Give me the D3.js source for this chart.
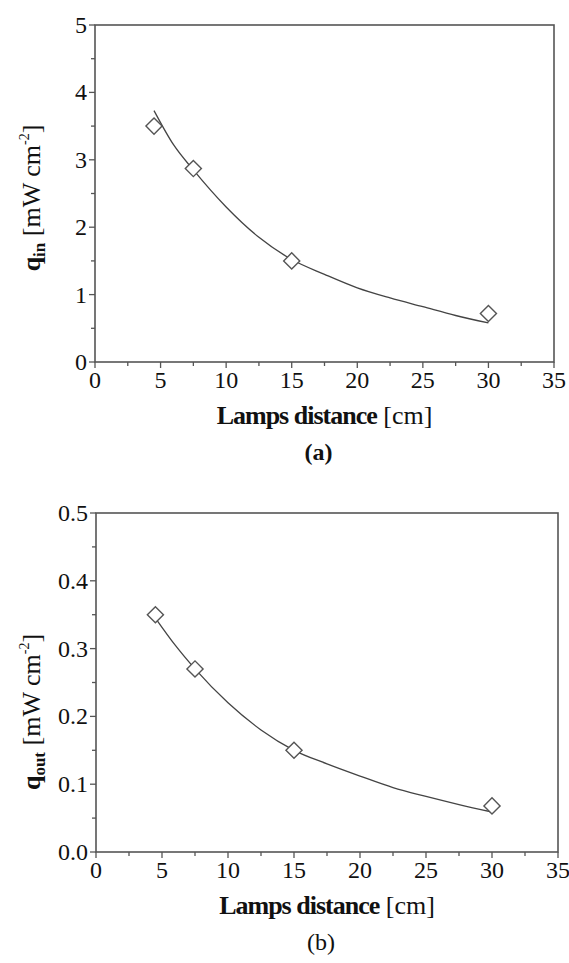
<!DOCTYPE html>
<html>
<head>
<meta charset="utf-8">
<script src="https://cdn.jsdelivr.net/npm/d3@7"></script>
<style>
  body { margin: 0; background: #fff; }
  .frame { fill: none; stroke: #555; stroke-width: 1.6; }
  .tick-line { stroke: #555; stroke-width: 1.3; }
  .fit { fill: none; stroke: #444; stroke-width: 1.3; }
  .marker { fill: #fff; stroke: #555; stroke-width: 1.4; }
</style>
</head>
<body>
<svg id="chart" width="569" height="963"></svg>
<script>
'use strict';

const FONT = 'Liberation Serif';

// Measured points
const distances = [4.5, 7.5, 15, 30];
const qIn = [3.5, 2.87, 1.5, 0.72];
const qOut = [0.35, 0.27, 0.15, 0.068];

// Fitted curve
const fitDistances = [4.5, 6, 7.5, 10, 12.5, 15, 17.5, 20, 22.5, 25, 27.5, 30];
const qInFit = [3.73, 3.22, 2.85, 2.3, 1.85, 1.52, 1.3, 1.1, 0.95, 0.82, 0.69, 0.58];
const qOutFit = [0.345, 0.305, 0.27, 0.22, 0.18, 0.15, 0.13, 0.112, 0.095, 0.082, 0.07, 0.059];

// Axes
const xTicks = [0, 5, 10, 15, 20, 25, 30, 35];
const qInTicks = [0, 1, 2, 3, 4, 5];
const qOutTicks = [0, 0.1, 0.2, 0.3, 0.4, 0.5];
const xTitle = ['Lamps distance', ' [cm]'];

const svg = d3.select('#chart');

function drawPanel(opts) {
    const x = d3.scaleLinear().domain([0, 35]).range([opts.left, opts.right]);
    const y = d3.scaleLinear().domain(opts.yDomain).range([opts.bottom, opts.top]);
    const g = svg.append('g');

    // Frame
    g.append('rect')
        .attr('class', 'frame')
        .attr('x', opts.left)
        .attr('y', opts.top)
        .attr('width', opts.right - opts.left)
        .attr('height', opts.bottom - opts.top);

    // Bottom axis: major and minor ticks, pointing out
    const xMinor = xTicks.slice(0, -1).map(t => t + 2.5);
    g.selectAll('.xmajor').data(xTicks).enter().append('line')
        .attr('class', 'tick-line')
        .attr('x1', d => x(d)).attr('x2', d => x(d))
        .attr('y1', opts.bottom).attr('y2', opts.bottom + 6);
    g.selectAll('.xminor').data(xMinor).enter().append('line')
        .attr('class', 'tick-line')
        .attr('x1', d => x(d)).attr('x2', d => x(d))
        .attr('y1', opts.bottom).attr('y2', opts.bottom + 4);
    g.selectAll('.xlabel').data(xTicks).enter().append('text')
        .attr('font-family', FONT)
        .attr('font-size', 24)
        .attr('fill', '#111')
        .attr('x', d => x(d))
        .attr('y', opts.bottom + 26)
        .attr('text-anchor', 'middle')
        .text(d => d);

    // Left axis
    const step = opts.yTicks[1] - opts.yTicks[0];
    const yMinor = opts.yTicks.slice(0, -1).map(t => t + step / 2);
    g.selectAll('.ymajor').data(opts.yTicks).enter().append('line')
        .attr('class', 'tick-line')
        .attr('x1', opts.left - 6).attr('x2', opts.left)
        .attr('y1', d => y(d)).attr('y2', d => y(d));
    g.selectAll('.yminor').data(yMinor).enter().append('line')
        .attr('class', 'tick-line')
        .attr('x1', opts.left - 4).attr('x2', opts.left)
        .attr('y1', d => y(d)).attr('y2', d => y(d));
    g.selectAll('.ylabel').data(opts.yTicks).enter().append('text')
        .attr('font-family', FONT)
        .attr('font-size', 24)
        .attr('fill', '#111')
        .attr('x', opts.left - 8)
        .attr('y', d => y(d) + 8)
        .attr('text-anchor', 'end')
        .text(d => opts.yFormat(d));

    // Fitted curve
    const line = d3.line()
        .x(d => x(d[0]))
        .y(d => y(d[1]))
        .curve(d3.curveMonotoneX);
    g.append('path')
        .attr('class', 'fit')
        .attr('d', line(d3.zip(fitDistances, opts.fit)));

    // Open diamonds
    const diamond = d3.symbol().type(d3.symbolSquare).size(130);
    g.selectAll('.marker').data(d3.zip(distances, opts.values)).enter().append('path')
        .attr('class', 'marker')
        .attr('d', diamond)
        .attr('transform', d => `translate(${x(d[0])},${y(d[1])}) rotate(45)`);

    // X title
    const cx = (opts.left + opts.right) / 2;
    const xt = g.append('text')
        .attr('font-family', FONT)
        .attr('font-size', 26)
        .attr('fill', '#111')
        .attr('x', cx)
        .attr('y', opts.bottom + 62)
        .attr('text-anchor', 'middle');
    xt.append('tspan').attr('font-weight', 'bold').attr('letter-spacing', -1).text(xTitle[0]);
    xt.append('tspan').text(xTitle[1]);

    // Panel letter
    g.append('text')
        .attr('font-family', FONT)
        .attr('font-size', 24)
        .attr('font-weight', opts.letterBold ? 'bold' : 'normal')
        .attr('fill', '#111')
        .attr('x', cx - 6)
        .attr('y', opts.bottom + 98)
        .attr('text-anchor', 'middle')
        .text(opts.letter);

    // Y title, rotated
    const yt = g.append('text')
        .attr('font-family', FONT)
        .attr('font-size', 26)
        .attr('fill', '#111')
        .attr('transform', `translate(${opts.yTitleX},${opts.yTitleY}) rotate(-90)`)
        .attr('text-anchor', 'middle');
    yt.append('tspan').attr('font-weight', 'bold').text('q');
    yt.append('tspan').attr('font-weight', 'bold').attr('font-size', 17)
        .attr('dy', 5).text(opts.sub);
    yt.append('tspan').attr('dy', -5).text(' [mW cm');
    yt.append('tspan').attr('font-size', 14).attr('dy', -11).text('-2');
    yt.append('tspan').attr('dy', 11).text(']');
}

drawPanel({
    left: 95, right: 554, top: 25, bottom: 362,
    yDomain: [0, 5], yTicks: qInTicks, yFormat: d => d,
    values: qIn, fit: qInFit,
    sub: 'in', letter: '(a)', letterBold: true,
    yTitleX: 40, yTitleY: 198
});

drawPanel({
    left: 96, right: 558, top: 513, bottom: 852,
    yDomain: [0, 0.5], yTicks: qOutTicks, yFormat: d => d.toFixed(1),
    values: qOut, fit: qOutFit,
    sub: 'out', letter: '(b)', letterBold: false,
    yTitleX: 40, yTitleY: 712
});
</script>
</body>
</html>
